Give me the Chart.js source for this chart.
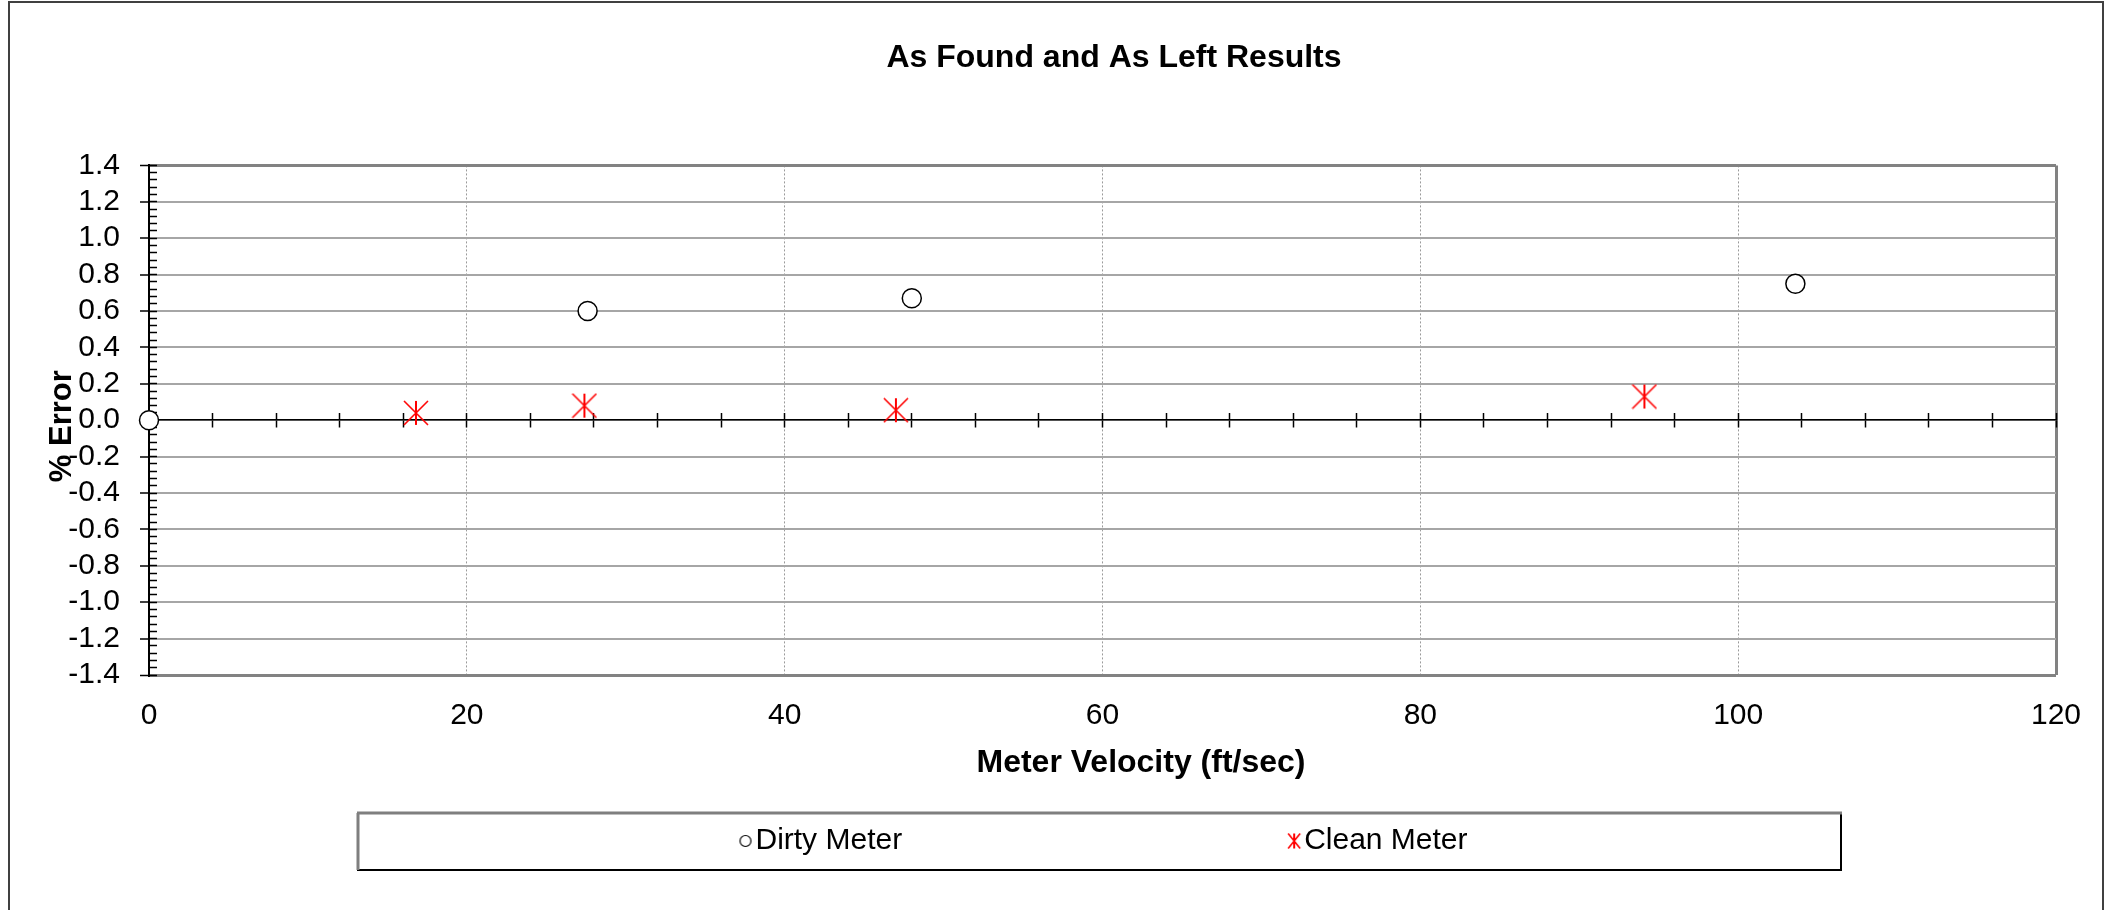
<!DOCTYPE html>
<html>
<head>
<meta charset="utf-8">
<script src="https://cdn.jsdelivr.net/npm/chart.js@4.4.1/dist/chart.umd.min.js"></script>
<style>
  body { margin: 0; background: #fff; }
  #frame { position: absolute; left: 8px; top: 1px; width: 2092px; height: 1000px; border: 2px solid #404040; }
  #myChart { position: absolute; left: 0; top: 0; }
</style>
</head>
<body>
<div id="frame"></div>
<canvas id="myChart" width="2118" height="910"></canvas>
<script>
// values
var dirtyVelocity = [0, 27.6, 48.0, 103.6];
var dirtyError = [0.0, 0.60, 0.67, 0.75];
var cleanVelocity = [16.8, 27.4, 47.0, 94.1];
var cleanError = [0.04, 0.08, 0.055, 0.13];

var seriesNames = ["Dirty Meter", "Clean Meter"];
var yRange = [-1.4, 1.4];
var yStep = 0.2;
var xRange = [0, 120];
var xStep = 20;

Chart.defaults.font.family = "'Liberation Sans', Arial, sans-serif";
Chart.defaults.color = '#000';

function toPoints(xs, ys) {
    var pts = [];
    for (var i in xs) {
        pts.push({x: xs[i], y: ys[i]});
    }
    return pts;
}

// asterisk marker: X plus vertical stroke
function starMark(w, h, cx, cy, rx, ry) {
    var c = document.createElement('canvas');
    c.width = w;
    c.height = h;
    var g = c.getContext('2d');
    g.strokeStyle = '#ff0000';
    g.lineWidth = 1.6;
    g.beginPath();
    g.moveTo(cx - rx, cy - ry); g.lineTo(cx + rx, cy + ry);
    g.moveTo(cx + rx, cy - ry); g.lineTo(cx - rx, cy + ry);
    g.stroke();
    g.lineWidth = 2;
    g.beginPath();
    g.moveTo(cx, cy - ry); g.lineTo(cx, cy + ry);
    g.stroke();
    return c;
}

function circleMark(w, h, cx, cy, r) {
    var c = document.createElement('canvas');
    c.width = w;
    c.height = h;
    var g = c.getContext('2d');
    g.fillStyle = '#fff';
    g.strokeStyle = '#000';
    g.lineWidth = 1.2;
    g.beginPath();
    g.arc(cx, cy, r, 0, Math.PI * 2);
    g.fill();
    g.stroke();
    return c;
}

var legendMarks = [circleMark(34, 18, 26, 9, 5.5), starMark(34, 18, 26, 9, 6, 7.5)];

function isEdge(v, lim) {
    return Math.abs(Math.abs(v) - lim) < 1e-6;
}

// moves titles / legend to where the reference has them, draws the legend frame
var nudge = {
    id: 'nudge',
    afterLayout: function (chart) {
        chart.titleBlock.left = 172;
        chart.titleBlock.right = 2056;
        var xt = chart.scales.xt;
        var w = xt.right - xt.left;
        xt.left = 1141 - w / 2;
        xt.right = 1141 + w / 2;
        var yt = chart.scales.yt;
        yt.left = 0;
        yt.right = 0;
        yt.top = chart.chartArea.top + 6;
        yt.bottom = chart.chartArea.bottom + 6;
        var lg = chart.legend;
        var pad = lg.options.labels.padding;
        lg.left = 0;
        lg.right = 2200;
        lg.top = 841 - 15 - pad;
        lg.bottom = 910;
    },
    afterDraw: function (chart) {
        var c = chart.ctx;
        c.save();
        c.lineWidth = 2;
        c.strokeStyle = '#000';
        c.strokeRect(358, 813, 1483, 57);
        c.strokeStyle = '#7f7f7f';
        c.lineWidth = 3;
        c.beginPath();
        c.moveTo(357, 813); c.lineTo(1842, 813);
        c.moveTo(358, 813); c.lineTo(358, 870);
        c.stroke();
        c.restore();
    }
};

var ctx = document.getElementById("myChart").getContext('2d');
var myChart = new Chart(ctx, {
    type: 'scatter',
    data: {
        datasets: [
            {
                label: seriesNames[0],
                data: toPoints(dirtyVelocity, dirtyError),
                pointStyle: 'circle',
                pointRadius: 9.5,
                backgroundColor: '#fff',
                borderColor: '#000',
                borderWidth: 1.5,
                clip: false,
                xAxisID: 'x',
                yAxisID: 'y'
            },
            {
                label: seriesNames[1],
                data: toPoints(cleanVelocity, cleanError),
                pointStyle: starMark(26, 26, 13, 13, 12, 12),
                pointRadius: 12,
                borderColor: '#ff0000',
                clip: false,
                xAxisID: 'x',
                yAxisID: 'y'
            }
        ]
    },
    options: {
        responsive: false,
        animation: false,
        events: [],
        layout: {padding: {left: 0, right: 62, top: 0, bottom: 0}},
        plugins: {
            title: {
                display: true,
                text: 'As Found and As Left Results',
                font: {size: 32, weight: 'bold'},
                padding: {top: 39, bottom: 88}
            },
            legend: {
                position: 'bottom',
                maxHeight: 125,
                labels: {
                    usePointStyle: true,
                    boxWidth: 8,
                    boxHeight: 8,
                    padding: 379,
                    font: {size: 30},
                    generateLabels: function (chart) {
                        return chart.data.datasets.map(function (ds, i) {
                            return {
                                text: ds.label,
                                pointStyle: legendMarks[i],
                                fillStyle: '#fff',
                                strokeStyle: '#000',
                                lineWidth: 0,
                                hidden: false,
                                datasetIndex: i,
                                fontColor: '#000'
                            };
                        });
                    }
                }
            },
            tooltip: {enabled: false}
        },
        scales: {
            x: {
                type: 'linear',
                position: 'bottom',
                min: xRange[0],
                max: xRange[1],
                ticks: {stepSize: xStep, padding: 23, font: {size: 30}, maxRotation: 0},
                grid: {
                    drawTicks: false,
                    color: function (c) { return c.tick && c.tick.value === xRange[1] ? '#828282' : '#9a9a9a'; },
                    lineWidth: function (c) { return c.tick && c.tick.value === xRange[1] ? 3 : 1; }
                },
                border: {
                    display: false,
                    dash: function (c) { return c.tick && c.tick.value === xRange[1] ? [] : [2, 2]; }
                },
                afterFit: function (s) { s.height = 60; }
            },
            xt: {
                type: 'linear',
                position: 'bottom',
                min: 0,
                max: 1,
                ticks: {display: false},
                grid: {display: false},
                border: {display: false},
                title: {
                    display: true,
                    text: 'Meter Velocity (ft/sec)',
                    font: {size: 32, weight: 'bold'},
                    padding: {top: 0, bottom: 3}
                },
                afterFit: function (s) { s.height = 50; }
            },
            y: {
                type: 'linear',
                position: 'left',
                min: yRange[0],
                max: yRange[1],
                ticks: {
                    stepSize: yStep,
                    autoSkip: false,
                    padding: 20,
                    font: {size: 30},
                    callback: function (v) { return Math.abs(v) < 1e-9 ? '0.0' : v.toFixed(1); }
                },
                grid: {
                    tickLength: 9,
                    tickColor: '#000',
                    tickWidth: 1.5,
                    color: function (c) { return c.tick && isEdge(c.tick.value, yRange[1]) ? '#828282' : '#a6a6a6'; },
                    lineWidth: function (c) { return c.tick && isEdge(c.tick.value, yRange[1]) ? 3 : 2; }
                },
                border: {color: '#000', width: 2},
                afterFit: function (s) { s.width = 149; }
            },
            yt: {
                type: 'linear',
                axis: 'y',
                position: 'left',
                min: 0,
                max: 1,
                ticks: {display: false},
                grid: {display: false},
                border: {display: false},
                title: {
                    display: true,
                    text: '% Error',
                    font: {size: 31, weight: 'bold'},
                    padding: {top: 44, bottom: 0}
                },
                afterFit: function (s) { s.width = 0; }
            },
            yMinor: {
                type: 'linear',
                axis: 'y',
                position: {x: 0},
                min: yRange[0],
                max: yRange[1],
                ticks: {display: false, stepSize: 0.04},
                grid: {drawOnChartArea: false, tickLength: -8, tickColor: '#000', tickWidth: 1.5},
                border: {display: false}
            },
            xDown: {
                type: 'linear',
                axis: 'x',
                position: {y: 0},
                min: xRange[0],
                max: xRange[1],
                ticks: {display: false, stepSize: 4},
                grid: {drawOnChartArea: false, tickLength: 7, tickColor: '#000', tickWidth: 1.5},
                border: {display: true, color: '#000', width: 1.5}
            },
            xUp: {
                type: 'linear',
                axis: 'x',
                position: {y: 0},
                min: xRange[0],
                max: xRange[1],
                ticks: {display: false, stepSize: 4},
                grid: {drawOnChartArea: false, tickLength: -7, tickColor: '#000', tickWidth: 1.5},
                border: {display: false}
            }
        }
    },
    plugins: [nudge]
});
</script>
</body>
</html>
